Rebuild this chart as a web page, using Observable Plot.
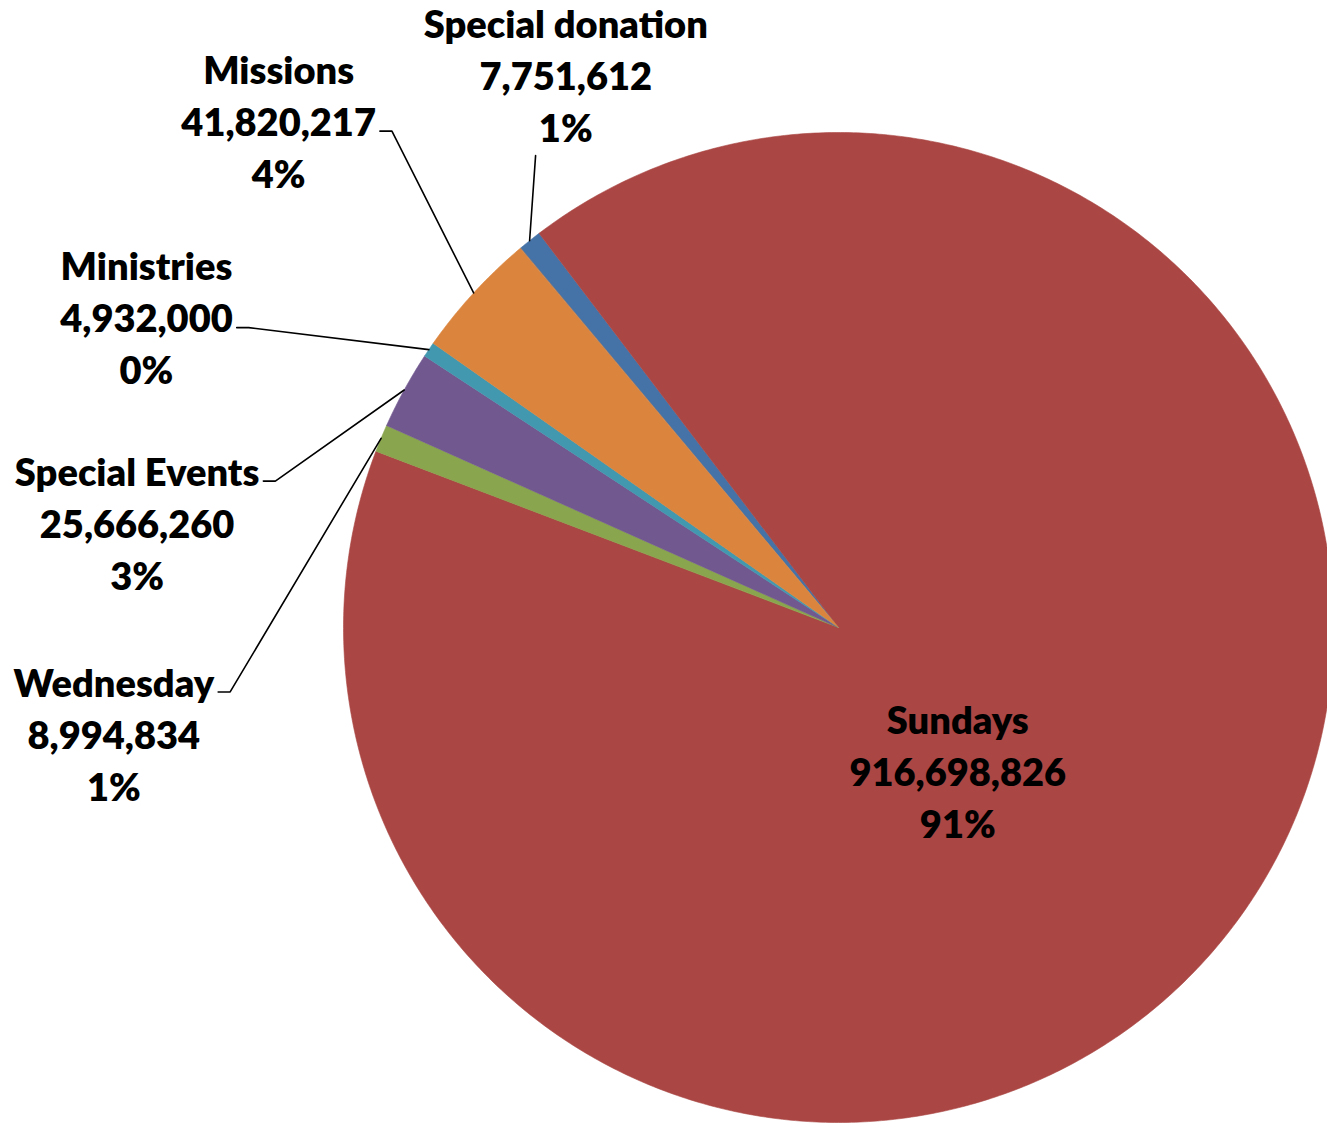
<!DOCTYPE html>
<html>
<head>
<meta charset="utf-8">
<script src="https://cdn.jsdelivr.net/npm/d3@7"></script>
<script src="https://cdn.jsdelivr.net/npm/@observablehq/plot@0.6"></script>
<style>
  html, body { margin: 0; padding: 0; background: #fff; }
  #chart svg { display: block; }
</style>
</head>
<body>
<div id="chart"></div>
<script>
// ---- data ----
const categories = ["Special donation", "Sundays", "Wednesday", "Special Events", "Ministries", "Missions"];
const values = [7751612, 916698826, 8994834, 25666260, 4932000, 41820217];
const colors = ["#4572A7", "#AA4643", "#89A54E", "#71588F", "#4198AF", "#DB843D"];

// ---- layout (not data) ----
const W = 1327, H = 1125;
const CX = 838, CY = 627, R = 495;      // pie centre / radius in pixels
const firstSliceAngle = 320;            // degrees, clockwise from 12 o'clock
const fontSize = 38, fontWeight = 800, linePx = 52;
const font = `${fontWeight} ${fontSize}px Lato`;
// label block centres in pie-radius units (u to the right, v upwards)
const labelAnchors = {
  "Special donation": [-0.551, 1.119],
  "Missions": [-1.131, 1.027],
  "Ministries": [-1.398, 0.630],
  "Special Events": [-1.417, 0.215],
  "Wednesday": [-1.464, -0.211],
  "Sundays": [0.241, -0.287]
};

const total = d3.sum(values);
const fmt = d3.format(",");
const pie = d3.pie().sort(null).value(d => d)
  .startAngle(firstSliceAngle * Math.PI / 180)
  .endAngle((firstSliceAngle + 360) * Math.PI / 180);
const arcs = pie(values);

// slice polygons (u,v) in radius units
const slicePts = arcs.map((a, i) => {
  const pts = [{u: 0, v: 0}];
  const n = Math.max(2, Math.ceil((a.endAngle - a.startAngle) / (Math.PI / 360)));
  for (let k = 0; k <= n; k++) {
    const t = a.startAngle + (a.endAngle - a.startAngle) * k / n;
    pts.push({u: Math.sin(t), v: Math.cos(t)});
  }
  return pts;
});

// text measurement
const ctx = document.createElement("canvas").getContext("2d");
ctx.font = font;
const tw = s => ctx.measureText(s).width / R;

const labels = categories.map((c, i) => {
  const lines = [c, fmt(values[i]), Math.round(values[i] / total * 100) + "%"];
  const [u, v] = labelAnchors[c];
  return {name: c, text: lines.join("\n"), lines, u, v, i};
});

// leader lines from label to slice mid-angle at the rim
const leaders = [];
labels.forEach(l => {
  if (l.name === "Sundays") return;
  const a = arcs[l.i];
  const mid = (a.startAngle + a.endAngle) / 2;
  const tu = Math.sin(mid), tv = Math.cos(mid);
  const widths = l.lines.map(tw);
  const half = d3.max(widths) / 2;
  const lh = linePx / R;
  if (Math.abs(tu - l.u) < half) {
    const bottom = l.v - lh * 1.5 - 4 / R;
    leaders.push([{u: tu + 6 / R, v: bottom}, {u: tu, v: tv}]);
  } else {
    const wi = widths.indexOf(d3.max(widths));
    const base = l.v - (wi - 1) * lh - 12 / R;
    const x0 = l.u + half + 4 / R;
    leaders.push([
      {u: x0, v: base},
      {u: x0 + 12 / R, v: base},
      {u: tu, v: tv}
    ]);
  }
});

const marks = [];
slicePts.forEach((pts, i) => {
  marks.push(Plot.line(pts, {x: "u", y: "v", fill: colors[i], stroke: colors[i], strokeWidth: 0.6, curve: "linear-closed"}));
});
leaders.forEach(pts => {
  marks.push(Plot.line(pts, {x: "u", y: "v", stroke: "#000", strokeWidth: 1.6, curve: "linear"}));
});
marks.push(Plot.text(labels, {
  x: "u", y: "v", text: "text",
  fontFamily: "Lato", fontWeight: fontWeight, fontSize: fontSize,
  lineHeight: linePx / fontSize, textAnchor: "middle", fill: "#000"
}));

const chart = Plot.plot({
  width: W, height: H,
  marginTop: 0, marginRight: 0, marginBottom: 0, marginLeft: 0,
  x: {domain: [-CX / R, (W - CX) / R], axis: null},
  y: {domain: [(CY - H) / R, CY / R], axis: null},
  style: {background: "#fff", overflow: "visible"},
  marks
});
document.getElementById("chart").appendChild(chart);
</script>
</body>
</html>
